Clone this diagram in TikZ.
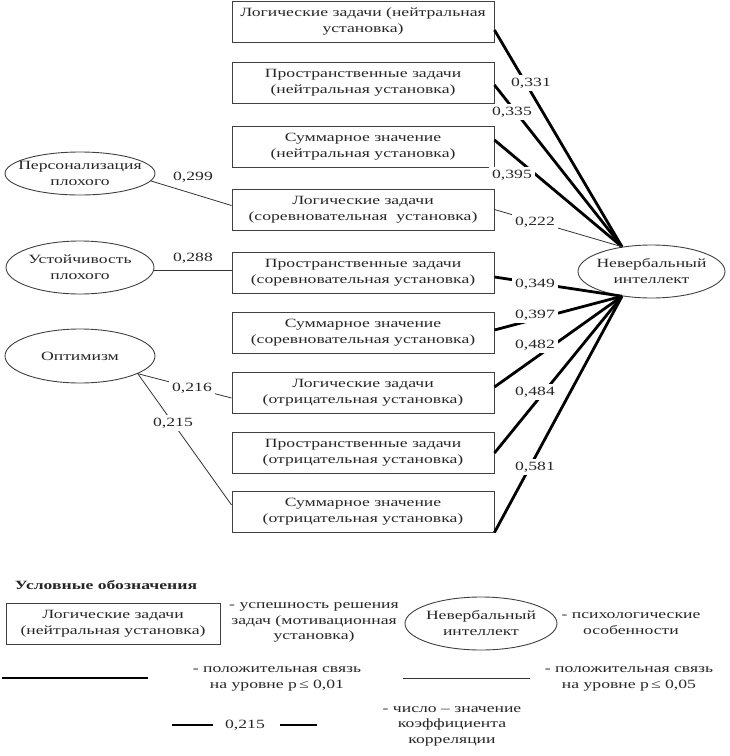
\documentclass[tikz,border=0pt]{standalone}
\usepackage{fontspec}
\setmainfont{Liberation Serif}[FakeStretch=1.4]
\usetikzlibrary{shapes.geometric,calc}
\begin{document}
\begin{tikzpicture}[x=1pt,y=-1pt,
  every node/.style={font=\fontsize{12.6}{16}\selectfont, inner sep=0pt, text=black!85},
  task/.style={draw=black!75, line width=0.9pt, rectangle, minimum width=262pt, minimum height=41pt, align=center},
  ell/.style={draw=black!75, line width=0.9pt, ellipse, inner sep=0pt},
  etext/.style={align=center},
  lab/.style={fill=white, inner sep=3pt},
  strong/.style={line width=2.8pt, black},
  weak/.style={line width=0.8pt, black!80}]
\useasboundingbox (0,0) rectangle (730,756);

% task boxes
\node[task] (b1) at (363,21.5) {Логические задачи (нейтральная\\установка)};
\node[task] (b2) at (363,83) {Пространственные задачи\\(нейтральная установка)};
\node[task] (b3) at (363,146.5) {Суммарное значение\\(нейтральная установка)};
\node[task] (b4) at (363,209.5) {Логические задачи\\(соревновательная\ \ установка)};
\node[task] (b5) at (363,273) {Пространственные задачи\\(соревновательная установка)};
\node[task] (b6) at (363,333) {Суммарное значение\\(соревновательная установка)};
\node[task] (b7) at (363,393) {Логические задачи\\(отрицательная установка)};
\node[task] (b8) at (363,453) {Пространственные задачи\\(отрицательная установка)};
\node[task] (b9) at (363,511.5) {Суммарное значение\\(отрицательная установка)};

% ellipses
\node[ell, minimum width=150pt, minimum height=43pt] (pers) at (80,173.5) {};
\node[etext] at (pers) {Персонализация\\плохого};
\node[ell, minimum width=148pt, minimum height=53pt] (ust) at (80,267.5) {};
\node[etext] at (ust) {Устойчивость\\плохого};
\node[ell, minimum width=150pt, minimum height=54pt] (opt) at (80,356) {};
\node[etext] at (opt) {Оптимизм};
\node[ell, minimum width=147pt, minimum height=53pt] (nv) at (651.5,271.5) {};
\node[etext] at (nv) {Невербальный\\интеллект};

% connectors to Невербальный интеллект
\draw[strong] ([yshift=-8.5pt]b1.east) -- (nv.140);
\draw[strong] ([yshift=-2pt]b2.east) -- (nv.140);
\draw[strong] ([yshift=6.5pt]b3.east) -- (nv.140);
\draw[weak] (b4.east) -- (nv.140);
\draw[strong] ([yshift=-4pt]b5.east) -- (nv.220);
\draw[strong] ([yshift=3pt]b6.east) -- (nv.220);
\draw[strong] ([yshift=6pt]b7.east) -- (nv.220);
\draw[strong] (b8.east) -- (nv.220);
\draw[strong] (b9.south east) -- (nv.220);

% connectors from left ellipses
\draw[weak] (pers.-6) -- ([yshift=4pt]b4.west);
\draw[weak] ([yshift=3pt]b5.west) -- ([yshift=3pt]b5.west -| ust.east);
\draw[weak] (opt.-17) -- ([yshift=-5pt]b7.west);
\draw[weak] (opt.-17) -- ([yshift=6.5pt]b9.west);

% coefficient labels
\node[lab] (c1) at (531,83) {0,331};
\node[lab] (c2) at (512,112) {0,335};
\node[lab] (c3) at (512,175) {0,395};
\node[lab] (c4) at (535,222) {0,222};
\node[lab] (c5) at (535,284) {0,349};
\node[lab] (c6) at (535,315) {0,397};
\node[lab] (c7) at (535,345) {0,482};
\node[lab] (c8) at (535,392) {0,484};
\node[lab] (c9) at (535,467) {0,581};
\node[lab] (l1) at (193,177) {0,299};
\node[lab] (l2) at (193,258) {0,288};
\node[lab] (l3) at (192,388) {0,216};
\node[lab] (l4) at (173,423) {0,215};

% legend
\node[font=\fontsize{12.6}{16}\selectfont\bfseries] (ltitle) at (106,585) {Условные обозначения};
\node[task, minimum width=214pt, minimum height=41pt] (lbox) at (113,623.5) {Логические задачи\\(нейтральная установка)};
\node[align=center, font=\fontsize{12.6}{15.5}\selectfont] (ltx1) at (314,622.5) {- успешность решения\\задач (мотивационная\\установка)};
\node[ell, minimum width=152pt, minimum height=53pt] (lell) at (481,623.5) {};
\node[etext] at (lell) {Невербальный\\интеллект};
\node[align=center] (ltx2) at (631,623.5) {- психологические\\особенности};

\coordinate (s1) at (2,678);
\coordinate (s2) at (148,678);
\draw[strong] (s1) -- (s2);
\node[align=center] (ltx3) at (277,679) {- положительная связь\\на уровне p\,≤ 0,01};
\coordinate (w1) at (403,678);
\coordinate (w2) at (530,678);
\draw[weak] (w1) -- (w2);
\node[align=center] (ltx4) at (629,679) {- положительная связь\\на уровне p\,≤ 0,05};

\coordinate (k1) at (172,725);
\coordinate (k2) at (213,725);
\coordinate (k3) at (280,725);
\coordinate (k4) at (317,725);
\draw[strong] (k1) -- (k2);
\draw[strong] (k3) -- (k4);
\node (l215) at (245,725) {0,215};
\node[align=center, font=\fontsize{12.6}{15.5}\selectfont] (ltx5) at (452,726) {- число – значение\\коэффициента\\корреляции};
\end{tikzpicture}
\end{document}
